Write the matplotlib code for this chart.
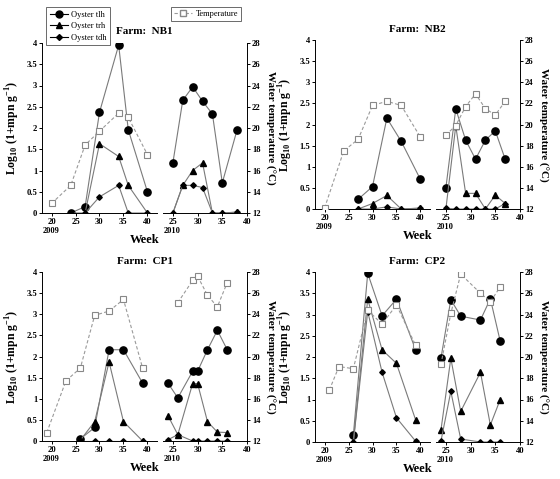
import numpy as np
import matplotlib
matplotlib.use('Agg')
import matplotlib.pyplot as plt
from matplotlib.lines import Line2D

plt.rcParams['font.family'] = 'Liberation Serif'
plt.rcParams['mathtext.fontset'] = 'custom'
plt.rcParams['mathtext.rm'] = 'Liberation Serif'
plt.rcParams['mathtext.bf'] = 'Liberation Serif:bold'

nan = np.nan

# ---- data (weeks, log10(1+mpn/g), water temperature degC) ----
NB1_WK09 = [20, 24, 27, 30, 34, 36, 40]
NB1_TEMP09 = [12.9, 14.6, 18.4, 19.7, 21.4, 21.0, 17.5]
NB1_TLH09 = [nan, 0.0, 0.15, 2.37, 3.95, 1.96, 0.5]
NB1_TRH09 = [nan, nan, 0.0, 1.63, 1.33, 0.65, 0.0]
NB1_TDH09 = [nan, 0.0, 0.0, 0.38, 0.65, 0.0, 0.0]
NB1_WK10 = [25, 27, 29, 31, 33, 35, 38]
NB1_TEMP10 = [nan] * 7
NB1_TLH10 = [1.18, 2.65, 2.97, 2.63, 2.33, 0.71, 1.96]
NB1_TRH10 = [0.0, 0.65, 1.0, 1.18, 0.0, 0.0, 0.02]
NB1_TDH10 = [0.0, 0.65, 0.65, 0.6, 0.0, 0.0, 0.02]

NB2_WK09 = [20, 24, 27, 30, 33, 36, 40]
NB2_TEMP09 = [12.1, 17.5, 18.6, 21.8, 22.2, 21.8, 18.8]
NB2_TLH09 = [nan, nan, 0.23, 0.53, 2.15, 1.6, 0.7]
NB2_TRH09 = [nan, nan, 0.0, 0.13, 0.32, 0.0, 0.02]
NB2_TDH09 = [nan, nan, 0.0, 0.0, 0.05, 0.0, 0.02]
NB2_WK10 = [25, 27, 29, 31, 33, 35, 37]
NB2_TEMP10 = [19.0, 19.9, 21.7, 22.9, 21.5, 20.9, 22.2]
NB2_TLH10 = [0.5, 2.37, 1.63, 1.18, 1.63, 1.85, 1.18]
NB2_TRH10 = [0.0, 1.97, 0.37, 0.37, 0.0, 0.33, 0.13]
NB2_TDH10 = [0.02, 0.0, 0.0, 0.0, 0.0, 0.0, 0.13]

CP1_WK09 = [19, 23, 26, 29, 32, 35, 39]
CP1_TEMP09 = [12.8, 17.7, 18.9, 23.9, 24.3, 25.4, 18.9]
CP1_TLH09 = [nan, nan, 0.05, 0.32, 2.16, 2.16, 1.37]
CP1_TRH09 = [nan, nan, 0.02, 0.46, 1.87, 0.46, 0.0]
CP1_TDH09 = [nan, nan, 0.0, 0.0, 0.0, 0.0, 0.0]
CP1_WK10 = [24, 26, 29, 30, 32, 34, 36]
CP1_TEMP10 = [nan, 25.1, 27.2, 27.6, 25.8, 24.7, 27.0]
CP1_TLH10 = [1.37, 1.02, 1.65, 1.65, 2.16, 2.62, 2.16]
CP1_TRH10 = [0.6, 0.15, 1.36, 1.36, 0.46, 0.21, 0.2]
CP1_TDH10 = [0.03, 0.15, 0.0, 0.0, 0.0, 0.0, 0.0]

CP2_WK09 = [21, 23, 26, 29, 32, 35, 39]
CP2_TEMP09 = [16.9, 19.1, 18.9, 24.4, 23.1, 24.9, 21.1]
CP2_TLH09 = [nan, nan, 0.16, 3.97, 2.97, 3.36, 2.17]
CP2_TRH09 = [nan, nan, 0.0, 3.36, 2.17, 1.85, 0.52]
CP2_TDH09 = [nan, nan, 0.0, 3.07, 1.64, 0.57, 0.02]
CP2_WK10 = [24, 26, 28, 32, 34, 36]
CP2_TEMP10 = [19.3, 24.1, 27.8, 26.0, 25.2, 26.6]
CP2_TLH10 = [1.97, 3.35, 2.96, 2.87, 3.37, 2.37]
CP2_TRH10 = [0.28, 1.97, 0.72, 1.64, 0.4, 1.0]
CP2_TDH10 = [0.02, 1.19, 0.07, 0.0, 0.0, 0.0]

FARMS = ['NB1', 'NB2', 'CP1', 'CP2']
YEARS = ['2009', '2010']

W, H = 560, 479
LINE_C = '#7a7a7a'
TEMP_C = '#9a9a9a'


def fx(px):
    return px / W


def fy(py):
    return 1 - py / H


def style_ticks(ax):
    ax.tick_params(direction='out', length=2.5, width=0.7, labelsize=6.2, pad=1)
    for lab in ax.get_xticklabels() + ax.get_yticklabels():
        lab.set_fontweight('bold')


def plot_bacteria(ax, wk, tlh, trh, tdh):
    ax.plot(wk, tlh, color=LINE_C, lw=0.8, marker='o', ms=5.2, mfc='k', mec='k', zorder=3)
    ax.plot(wk, trh, color=LINE_C, lw=0.8, marker='^', ms=4, mfc='k', mec='k', zorder=3)
    ax.plot(wk, tdh, color=LINE_C, lw=0.8, marker='D', ms=2.8, mfc='k', mec='k', zorder=3)


def plot_temp(ax, wk, temp):
    ax.plot(wk, temp, color=TEMP_C, lw=0.8, ls=(0, (3, 2)), marker='s', ms=5,
            mfc='white', mec='#888888', mew=0.8)


def draw_panel(fig, x0, ytop, ybot, farm, d09, d10):
    wl, gap, wr = 115, 6, 84
    h = ybot - ytop
    axL = fig.add_axes([fx(x0), fy(ybot), wl / W, h / H])
    axR = fig.add_axes([fx(x0 + wl + gap), fy(ybot), wr / W, h / H])
    tL = axL.twinx()
    tR = axR.twinx()

    plot_bacteria(axL, d09[0], d09[2], d09[3], d09[4])
    plot_bacteria(axR, d10[0], d10[2], d10[3], d10[4])
    plot_temp(tL, d09[0], d09[1])
    plot_temp(tR, d10[0], d10[1])

    for ax in (axL, axR):
        ax.set_ylim(0, 4)
        ax.set_yticks(np.arange(0, 4.01, 0.5))
        ax.set_yticklabels(['0', '0.5', '1', '1.5', '2', '2.5', '3', '3.5', '4'])
        ax.spines['top'].set_visible(False)
        ax.spines['right'].set_visible(False)
        for s in ax.spines.values():
            s.set_linewidth(0.7)
    axL.set_xlim(18, 42)
    axL.set_xticks([20, 25, 30, 35, 40])
    axR.set_xlim(23, 40)
    axR.set_xticks([25, 30, 35, 40])
    axR.spines['left'].set_visible(False)
    axR.tick_params(axis='y', left=False, labelleft=False)

    for t in (tL, tR):
        t.set_ylim(12, 28)
        t.set_xlim(t.get_xlim())
        for s in t.spines.values():
            s.set_visible(False)
    tL.tick_params(axis='y', right=False, labelright=False)
    tR.spines['right'].set_visible(True)
    tR.spines['right'].set_linewidth(0.7)
    tR.set_yticks(np.arange(12, 28.1, 2))

    for ax in (axL, axR, tR):
        style_ticks(ax)

    # text around the panel
    xc = x0 + (wl + gap + wr) / 2
    fig.text(fx(xc), fy(ytop - 11), 'Farm:  ' + farm, ha='center', va='center',
             fontsize=8, fontweight='bold')
    fig.text(fx(xc), fy(ybot + 27), 'Week', ha='center', va='center',
             fontsize=9, fontweight='bold')
    fig.text(fx(x0 + 1), fy(ybot + 18), YEARS[0], ha='left', va='center',
             fontsize=6, fontweight='bold')
    fig.text(fx(x0 + wl + gap + 1), fy(ybot + 18), YEARS[1], ha='left', va='center',
             fontsize=6, fontweight='bold')
    fig.text(fx(x0 - 29), fy((ytop + ybot) / 2),
             r'Log$_{\mathbf{10}}$ (1+mpn g$^{\mathbf{-1}}$)', rotation=90,
             ha='center', va='center', fontsize=8.5, fontweight='bold')
    fig.text(fx(x0 + wl + gap + wr + 23), fy((ytop + ybot) / 2),
             'Water temperature (\u00b0C)', rotation=270,
             ha='center', va='center', fontsize=8, fontweight='bold')


fig = plt.figure(figsize=(W / 100, H / 100), dpi=100)

data = {
    'NB1': ((NB1_WK09, NB1_TEMP09, NB1_TLH09, NB1_TRH09, NB1_TDH09),
            (NB1_WK10, NB1_TEMP10, NB1_TLH10, NB1_TRH10, NB1_TDH10)),
    'NB2': ((NB2_WK09, NB2_TEMP09, NB2_TLH09, NB2_TRH09, NB2_TDH09),
            (NB2_WK10, NB2_TEMP10, NB2_TLH10, NB2_TRH10, NB2_TDH10)),
    'CP1': ((CP1_WK09, CP1_TEMP09, CP1_TLH09, CP1_TRH09, CP1_TDH09),
            (CP1_WK10, CP1_TEMP10, CP1_TLH10, CP1_TRH10, CP1_TDH10)),
    'CP2': ((CP2_WK09, CP2_TEMP09, CP2_TLH09, CP2_TRH09, CP2_TDH09),
            (CP2_WK10, CP2_TEMP10, CP2_TLH10, CP2_TRH10, CP2_TDH10)),
}
layout = {'NB1': (42, 43, 213), 'NB2': (315, 40, 209),
          'CP1': (42, 272, 441), 'CP2': (315, 272, 442)}

for farm in FARMS:
    x0, ytop, ybot = layout[farm]
    draw_panel(fig, x0, ytop, ybot, farm, *data[farm])

# legends
handles = [
    Line2D([], [], color='k', lw=0.8, marker='o', ms=5, label='Oyster tlh'),
    Line2D([], [], color='k', lw=0.8, marker='^', ms=4, label='Oyster trh'),
    Line2D([], [], color='k', lw=0.8, marker='D', ms=3, label='Oyster tdh'),
]
leg1 = fig.legend(handles=handles, loc='upper left', bbox_to_anchor=(fx(42), fy(3)),
                  fontsize=6, frameon=True, fancybox=False, edgecolor='#444444',
                  handlelength=2.2, borderpad=0.4, labelspacing=0.45, handletextpad=0.4)
leg1.get_frame().set_linewidth(0.7)
temp_h = [Line2D([], [], color=TEMP_C, lw=0.8, ls=(0, (3, 2)), marker='s', ms=5,
                 mfc='white', mec='#888888', label='Temperature')]
leg2 = fig.legend(handles=temp_h, loc='upper right', bbox_to_anchor=(fx(245), fy(3)),
                  fontsize=6, frameon=True, fancybox=False, edgecolor='#444444',
                  handlelength=2.2, borderpad=0.35, handletextpad=0.4)
leg2.get_frame().set_linewidth(0.7)

fig.savefig('out.png', dpi=100)
